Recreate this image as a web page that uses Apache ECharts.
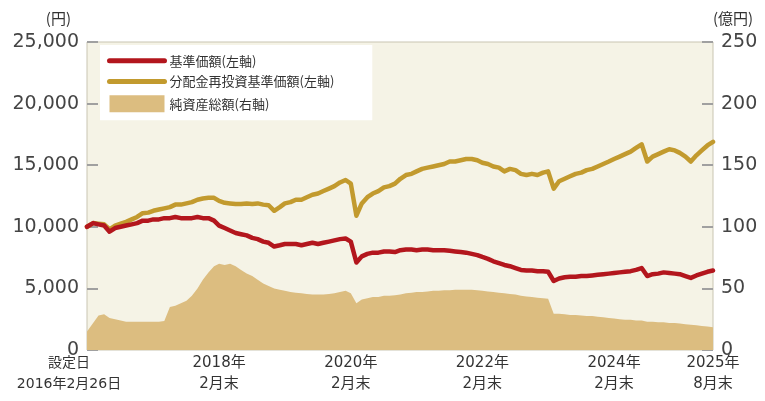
<!DOCTYPE html>
<html><head><meta charset="utf-8">
<script src="https://cdn.jsdelivr.net/npm/echarts@6/dist/echarts.min.js"></script>
<style>html,body{margin:0;padding:0;background:#fff}#c{width:765px;height:401px}</style>
</head><body><div id="c"></div>
<script>
// Monthly values from 2016-02 (設定日 2016-02-26) to 2025-08
const nav = [10000,10300,10200,10100,9600,9900,10000,10100,10200,10300,10500,
10500,10600,10600,10700,10700,10800,10700,10700,10700,10800,10700,10700,
10500,10100,9900,9700,9500,9400,9300,9100,9000,8800,8700,8400,
8500,8600,8600,8600,8500,8600,8700,8600,8700,8800,8900,9000,
9050,8800,7100,7600,7800,7900,7900,8000,8000,7950,8100,8150,
8150,8100,8150,8150,8100,8100,8100,8050,8000,7950,7900,7800,
7700,7550,7400,7200,7050,6900,6800,6650,6500,6450,6450,6400,
6400,6350,5600,5800,5900,5950,5950,6000,6000,6050,6100,6150,
6200,6250,6300,6350,6400,6500,6650,6000,6150,6200,6300,6250,
6200,6150,6000,5850,6050,6200,6350,6450];
const navReinv = [10000,10300,10250,10200,9800,10100,10250,10400,10600,10800,11100,
11150,11300,11400,11500,11600,11800,11800,11900,12000,12200,12300,12350,
12350,12100,11950,11900,11850,11850,11900,11850,11900,11800,11750,11300,
11600,11900,12000,12200,12200,12400,12600,12700,12900,13100,13300,13600,
13800,13500,10900,11900,12400,12700,12900,13200,13300,13500,13900,14200,
14300,14500,14700,14800,14900,15000,15100,15300,15300,15400,15500,15500,
15400,15200,15100,14900,14800,14500,14700,14600,14300,14200,14300,14200,
14400,14500,13100,13700,13900,14100,14300,14400,14600,14700,14900,15100,
15300,15500,15700,15900,16100,16400,16700,15300,15700,15900,16100,16300,
16200,16000,15700,15300,15800,16200,16600,16900];
const aum = [15,22,28,29,26,25,24,23,23,23,23,
23,23,23,23.5,35,36,38,40,44,50,57,63,
68,70,69,70,68,65,62,60,57,54,52,50,
49,48,47,46.5,46,45.5,45,45,45,45.5,46,47,
48,46,38,41,42,43,43,44,44,44.5,45,46,
46.5,47,47,47.5,48,48,48.5,48.5,49,49,49,49,
48.5,48,47.5,47,46.5,46,45.5,45,44,43.5,43,42.5,
42,41.5,29.5,29.5,29,28.5,28.5,28,27.5,27.5,27,26.5,
26,25.5,25,24.5,24.5,24,24,23,23,22.5,22.5,22,
22,21.5,21,20.5,20,19.5,19,18.5];
const tickDates = ['2016-02-26','2018-02-28','2020-02-29','2022-02-28','2024-02-29','2025-08-31'];
const tickLabels = ['設定日\n2016年2月26日','2018年\n2月末','2020年\n2月末','2022年\n2月末','2024年\n2月末','2025年\n8月末'];
const seriesNames = ['基準価額(左軸)','分配金再投資基準価額(左軸)','純資産総額(右軸)'];

function ts(s){const p=s.split('-').map(Number);return Date.UTC(p[0],p[1]-1,p[2]);}
const dates = [];
dates.push(ts('2016-02-26'));
for (let i=1;i<nav.length;i++){ // month ends
  const m = 1 + i;
  const y = 2016 + Math.floor(m/12), mm = m%12;
  dates.push(Date.UTC(y, mm+1, 0));
}
const tickTs = tickDates.map(ts);
const pair = arr => arr.map((v,i)=>[dates[i], v]);

const chart = echarts.init(document.getElementById('c'));
const font = 'DejaVu Sans';
const xFont = 'DejaVu Sans, Noto Sans CJK JP';
chart.setOption({
  backgroundColor:'#ffffff',
  animation:false,
  textStyle:{fontFamily:font},
  grid:{left:87,right:52,top:42,bottom:51,show:true,backgroundColor:'#f5f3e6',borderColor:'#c9c5b2',borderWidth:1},
  legend:{
    left:100, top:45, orient:'vertical', backgroundColor:'#ffffff',
    padding:[9,38,8,7], itemGap:7, itemWidth:55, itemHeight:17,
    textStyle:{fontFamily:'Noto Sans CJK JP', fontSize:13, color:'#333'},
    data:[
      {name:seriesNames[0], itemStyle:{opacity:0}, lineStyle:{width:5, cap:'round', color:'#b3161d'}},
      {name:seriesNames[1], itemStyle:{opacity:0}, lineStyle:{width:5, cap:'round', color:'#c29a2e'}},
      {name:seriesNames[2], icon:'rect'}]
  },
  xAxis:{
    type:'value', min:tickTs[0], max:tickTs[5],
    splitLine:{show:false},
    axisLine:{show:false},
    axisTick:{show:true, inside:true, length:10, lineStyle:{color:'#a0a0a0', width:2}, customValues:tickTs.slice(1,5)},
    axisLabel:{
      customValues:tickTs, showMinLabel:true, showMaxLabel:true,
      fontFamily:xFont, fontSize:15, color:'#333', lineHeight:21, margin:3,
      formatter:function(v){
        const i = tickTs.indexOf(v);
        if (i===0) return '{f|'+tickLabels[0]+'}';
        return i>=0 ? tickLabels[i] : '';
      },
      rich:{f:{fontFamily:xFont, fontSize:14, color:'#333', lineHeight:21, padding:[0,36,0,0]}}
    }
  },
  yAxis:[{
    type:'value', min:0, max:25000, interval:5000, position:'left',
    name:'(円)', nameLocation:'end', nameGap:16,
    nameTextStyle:{fontFamily:'Noto Sans CJK JP', fontSize:15, color:'#333', align:'right', padding:[0,16,0,0]},
    splitLine:{show:false}, axisLine:{show:false},
    axisTick:{show:true, inside:true, length:11, lineStyle:{color:'#a0a0a0', width:2}},
    axisLabel:{fontFamily:font, fontSize:19, color:'#444', margin:8,
      formatter:v=>v.toLocaleString('en-US')}
  },{
    type:'value', min:0, max:250, interval:50, position:'right',
    name:'(億円)', nameLocation:'end', nameGap:16,
    nameTextStyle:{fontFamily:'Noto Sans CJK JP', fontSize:15, color:'#333', align:'left', padding:[0,0,0,0]},
    splitLine:{show:false}, axisLine:{show:false},
    axisTick:{show:true, inside:true, length:11, lineStyle:{color:'#a0a0a0', width:2}},
    axisLabel:{fontFamily:font, fontSize:19, color:'#444', margin:8}
  }],
  series:[{
    name:seriesNames[2], type:'line', yAxisIndex:1, data:pair(aum), symbol:'none',
    itemStyle:{color:'#dcbd80'}, lineStyle:{width:0, color:'#dcbd80'}, areaStyle:{color:'#dcbd80', opacity:1}, z:1
  },{
    name:seriesNames[1], type:'line', yAxisIndex:0, data:pair(navReinv), symbol:'none',
    itemStyle:{color:'#c29a2e'}, lineStyle:{width:4.5, color:'#c29a2e', cap:'round', join:'round'}, z:3
  },{
    name:seriesNames[0], type:'line', yAxisIndex:0, data:pair(nav), symbol:'none',
    itemStyle:{color:'#b3161d'}, lineStyle:{width:4.5, color:'#b3161d', cap:'round', join:'round'}, z:4
  }]
});
</script></body></html>
